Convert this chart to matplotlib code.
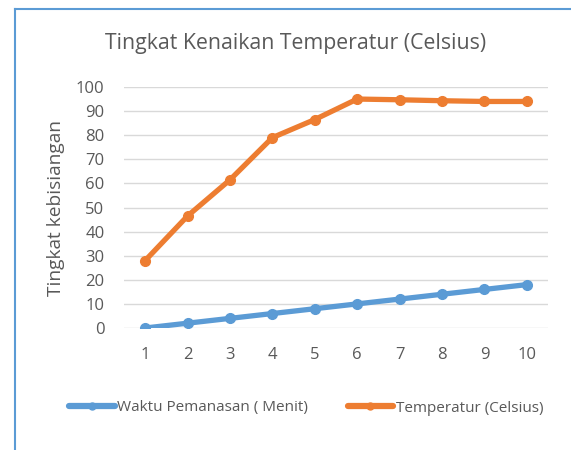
import matplotlib
matplotlib.use("Agg")
import matplotlib.pyplot as plt
from matplotlib.lines import Line2D

categories = [1, 2, 3, 4, 5, 6, 7, 8, 9, 10]
waktu = [0, 2, 4, 6, 8, 10, 12, 14, 16, 18]
temperatur = [28, 46.5, 61.5, 79, 86.5, 95, 94.7, 94.3, 94, 94]
yticks = [0, 10, 20, 30, 40, 50, 60, 70, 80, 90, 100]

plt.rcParams['font.family'] = ['Open Sans', 'DejaVu Sans']
W, H = 571, 450
fig = plt.figure(figsize=(W / 100, H / 100), dpi=100)
ax = fig.add_axes([124 / W, 1 - 328 / H, (548 - 124) / W, (328 - 87) / H])

blue = '#5B9BD5'
orange = '#ED7D31'
txt = '#595959'

ax.plot(categories, waktu, color=blue, lw=3.8, marker='o', ms=7,
        solid_capstyle='round', label='Waktu Pemanasan ( Menit)', zorder=3)
ax.plot(categories, temperatur, color=orange, lw=3.8, marker='o', ms=7,
        solid_capstyle='round', label='Temperatur (Celsius)', zorder=3)

ax.set_xlim(0.5, 10.5)
ax.set_ylim(0, 100)
ax.set_yticks(yticks)
ax.set_xticks(categories)
ax.grid(axis='y', color='#d9d9d9', lw=1)
ax.set_axisbelow(True)
for s in ax.spines.values():
    s.set_visible(False)
ax.tick_params(length=0, labelsize=12, colors=txt)
ax.tick_params(axis='y', pad=14)
ax.tick_params(axis='x', pad=14)

ax.set_ylabel('Tingkat kebisiangan', fontsize=13.8, color=txt, labelpad=8)
fig.text(296 / W, 1 - 44 / H, 'Tingkat Kenaikan Temperatur (Celsius)',
         ha='center', va='center', fontsize=15.3, color=txt)

leg = fig.legend(loc='center', bbox_to_anchor=(306 / W, 1 - 408 / H), ncol=2,
                 frameon=False, fontsize=11, handlelength=3.0, handletextpad=0.15,
                 columnspacing=2.6, labelcolor=txt)
for h in leg.legend_handles:
    h.set_markersize(5)
    h.set_linewidth(4.5)

# border
fig.add_artist(Line2D([15 / W, 1], [1 - 9 / H, 1 - 9 / H], color=blue, lw=1.5,
                      transform=fig.transFigure))
fig.add_artist(Line2D([15 / W, 15 / W], [1 - 9 / H, 0], color=blue, lw=1.5,
                      transform=fig.transFigure))

fig.savefig('out.png', dpi=100)
